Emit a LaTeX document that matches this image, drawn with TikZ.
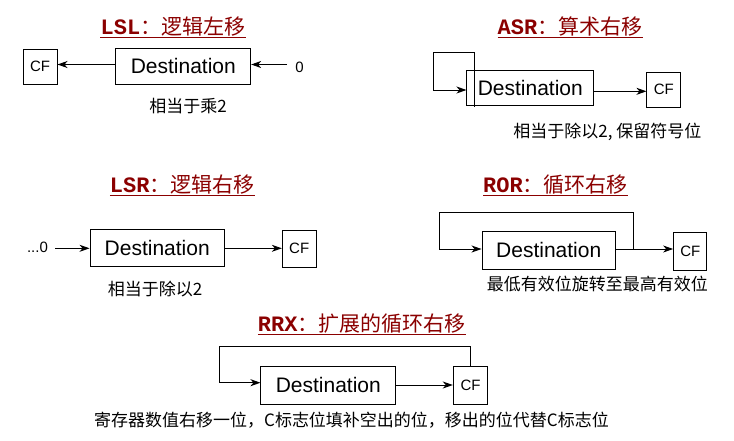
\documentclass[tikz,border=0pt]{standalone}
\usepackage{fontspec}
\setmainfont{Liberation Sans}
\newfontfamily\cjk{Noto Sans CJK SC}
\newfontfamily\tmono{Liberation Mono}
\usetikzlibrary{arrows.meta}
\definecolor{ttlred}{RGB}{139,0,0}
\newcommand{\ttltext}[2]{{\fontsize{22}{22}\selectfont\tmono\bfseries #1}{\fontsize{21}{21}\selectfont\cjk ：#2}}
\begin{document}
\begin{tikzpicture}[x=1pt,y=-1pt,
  ttl/.style={anchor=base, inner sep=0pt, text=ttlred},
  uline/.style={draw=ttlred, line width=1pt},
  dbox/.style={draw, line width=1pt, inner sep=0pt, font=\fontsize{21}{21}\selectfont},
  cfbox/.style={draw, line width=1pt, inner sep=0pt, font=\fontsize{15}{15}\selectfont},
  lbl/.style={inner sep=0pt, font=\fontsize{15}{15}\selectfont},
  note/.style={inner sep=0pt, font=\fontsize{17}{17}\selectfont\cjk},
  wire/.style={line width=1pt},
  arr/.style={line width=1pt, -{Stealth[length=10pt,width=7pt,inset=3pt]}}]
\useasboundingbox[fill=white] (0,0) rectangle (734,440);

% ---------- LSL ----------
\node[ttl] (t1) at (173,34.5) {\ttltext{LSL}{逻辑左移}};
\draw[uline] ([yshift=-2.5pt]t1.base west) -- ([yshift=-2.5pt]t1.base east);
\node[dbox, minimum width=134.7, minimum height=36] (d1) at (183.3,66) {Destination};
\node[cfbox, minimum width=34, minimum height=35] (c1) at (40,66.5) {CF};
\node[lbl] (z1) at (299.5,67) {0};
\coordinate (a1) at (287,64.5);
\draw[arr] (a1) -- (a1 -| d1.east);
\draw[arr] (a1 -| d1.west) -- (a1 -| c1.east);
\node[note] (n1) at (188,106) {相当于乘2};

% ---------- ASR ----------
\node[ttl] (t2) at (570,34.5) {\ttltext{ASR}{算术右移}};
\draw[uline] ([yshift=-2.5pt]t2.base west) -- ([yshift=-2.5pt]t2.base east);
\node[dbox, minimum width=126.7, minimum height=35.3] (d2) at (530.3,87.7) {Destination};
\node[cfbox, minimum width=33.7, minimum height=35.3] (c2) at (663.8,89.7) {CF};
\coordinate (m2) at (474.3,52.3);
\coordinate (k2) at (433.7,52.3);
\coordinate (a2) at (0,90);
\coordinate (b2) at (0,91.3);
\draw[wire] (m2 |- d2.north) -- ([yshift=-1pt]m2 |- d2.south);
\draw[arr] (m2 |- d2.north) -- (m2) -- (k2) -- (k2 |- a2) -- (a2 -| d2.west);
\draw[arr] (b2 -| d2.east) -- (b2 -| c2.west);
\node[note] (n2) at (607.3,132.2) {相当于除以2, 保留符号位};

% ---------- LSR ----------
\node[ttl] (t3) at (182.3,192.5) {\ttltext{LSR}{逻辑右移}};
\draw[uline] ([yshift=-2.5pt]t3.base west) -- ([yshift=-2.5pt]t3.base east);
\node[dbox, minimum width=134.3, minimum height=37.4] (d3) at (157.2,248) {Destination};
\node[cfbox, minimum width=33.7, minimum height=37] (c3) at (299.2,248.8) {CF};
\node[lbl] (z3) at (37.5,247.5) {...0};
\coordinate (a3) at (55,248.3);
\draw[arr] (a3) -- (a3 -| d3.west);
\draw[arr] (a3 -| d3.east) -- (a3 -| c3.west);
\node[note] (n3) at (155,289) {相当于除以2};

% ---------- ROR ----------
\node[ttl] (t4) at (555.5,192.5) {\ttltext{ROR}{循环右移}};
\draw[uline] ([yshift=-2.5pt]t4.base west) -- ([yshift=-2.5pt]t4.base east);
\node[dbox, minimum width=133.3, minimum height=38.3] (d4) at (548.7,250.2) {Destination};
\node[cfbox, minimum width=33.3, minimum height=37.7] (c4) at (690.3,251.2) {CF};
\coordinate (a4) at (633.7,249);
\coordinate (k4) at (439.7,212.7);
\draw[arr] (a4 -| d4.east) -- (a4 -| c4.west);
\draw[arr] (a4) -- (a4 |- k4) -- (k4) -- (k4 |- a4) -- (a4 -| d4.west);
\node[note] (n4) at (597.3,284.2) {最低有效位旋转至最高有效位};

% ---------- RRX ----------
\node[ttl] (t5) at (361.8,331.5) {\ttltext{RRX}{扩展的循环右移}};
\draw[uline] ([yshift=-2.5pt]t5.base west) -- ([yshift=-2.5pt]t5.base east);
\node[dbox, minimum width=134.7, minimum height=38.3] (d5) at (328.3,385.2) {Destination};
\node[cfbox, minimum width=34.4, minimum height=37.6] (c5) at (470.5,385.5) {CF};
\coordinate (a5) at (0,385);
\coordinate (k5) at (219,346);
\coordinate (j5) at (0,382.7);
\draw[arr] (a5 -| d5.east) -- (a5 -| c5.west);
\draw[arr] (c5.north) -- (c5.north |- k5) -- (k5) -- (k5 |- j5) -- (j5 -| d5.west);
\node[note] (n5) at (351.5,420) {寄存器数值右移一位，C标志位填补空出的位，移出的位代替C标志位};
\end{tikzpicture}
\end{document}
